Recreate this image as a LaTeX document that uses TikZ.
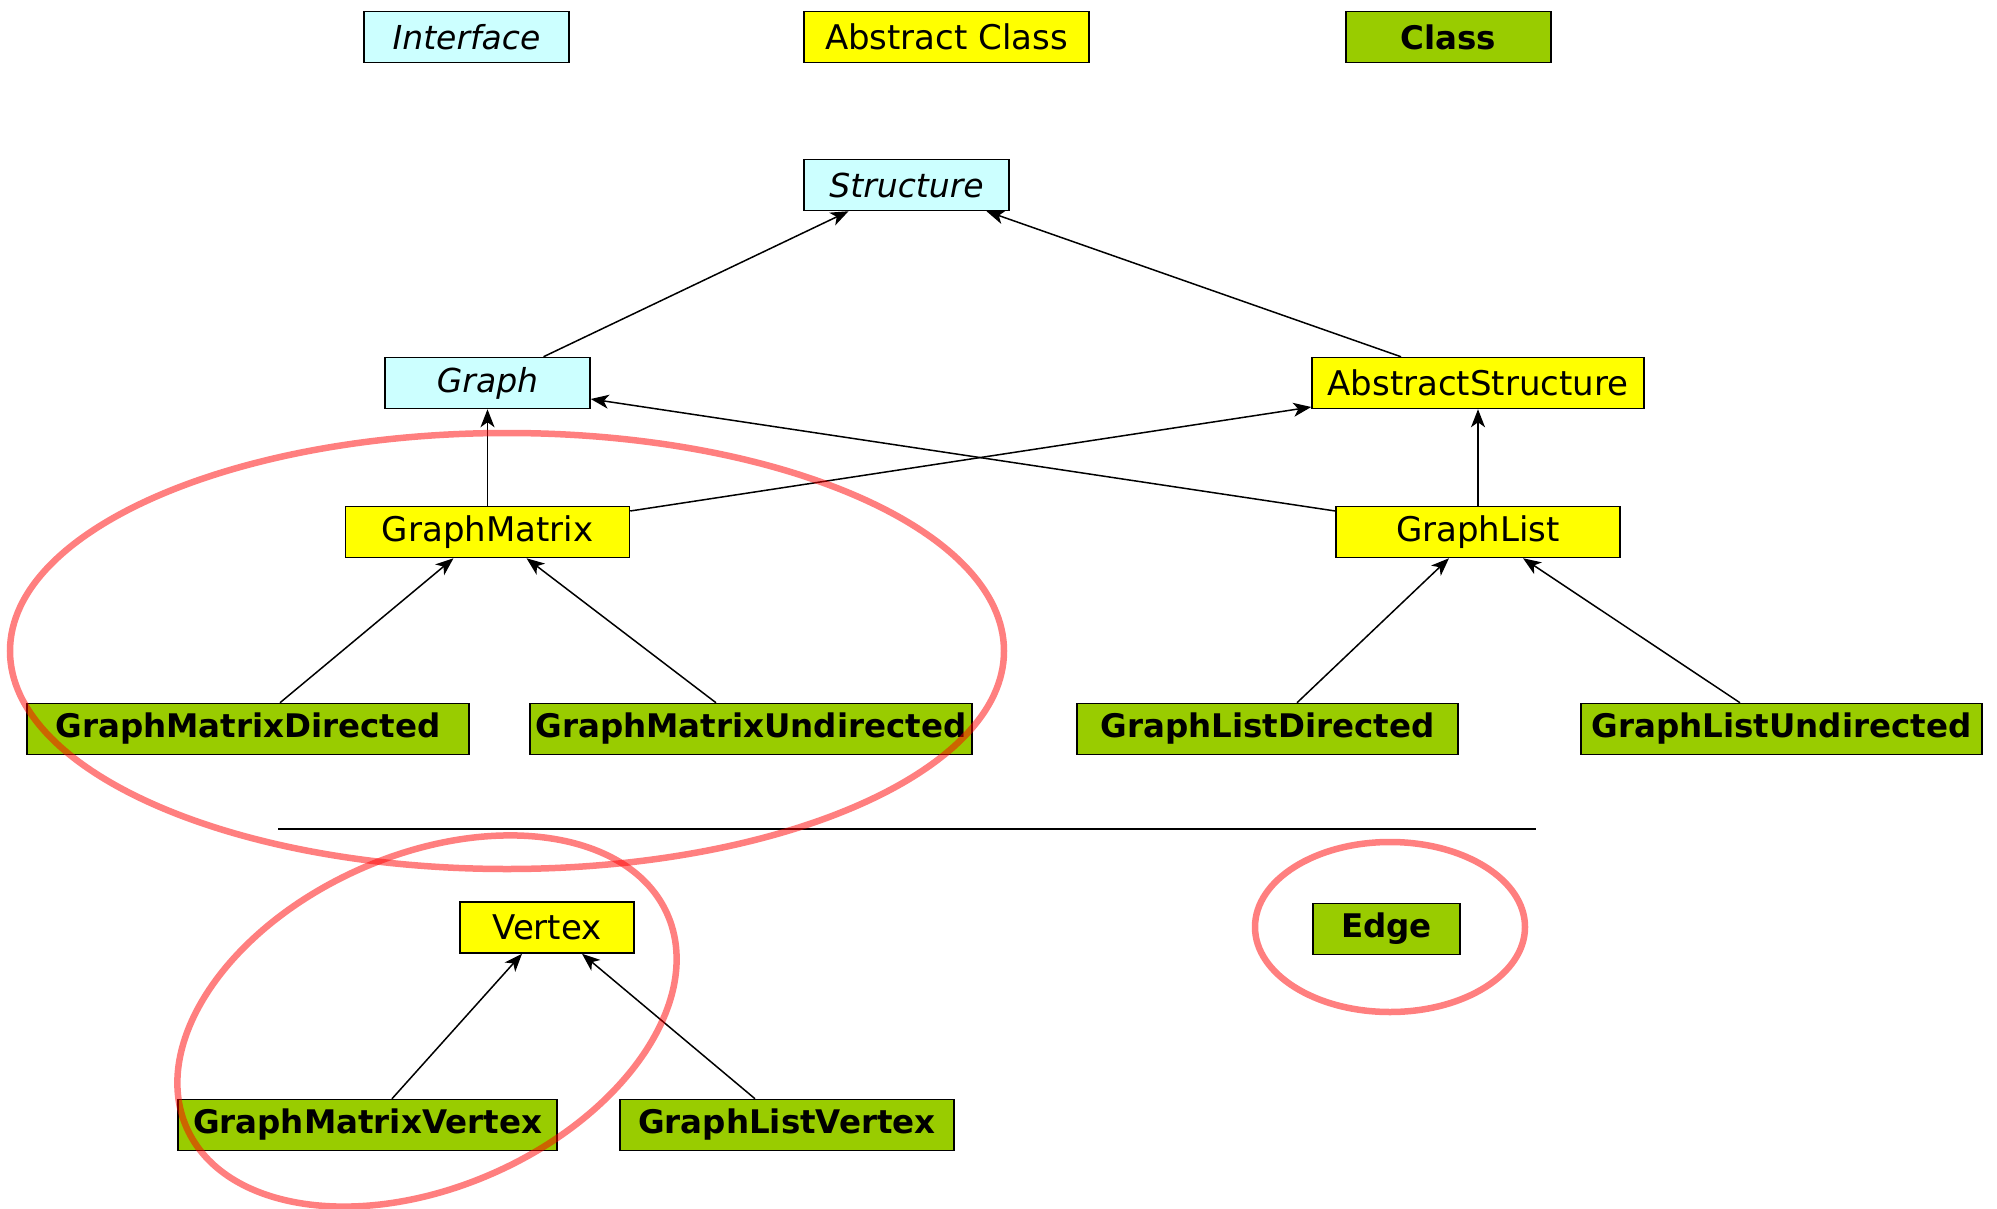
\documentclass[tikz,border=0pt]{standalone}
\usepackage{fontspec}
\setmainfont{DejaVu Sans}
\usetikzlibrary{arrows.meta}
\definecolor{ifc}{RGB}{204,255,255}
\definecolor{abc}{RGB}{255,255,0}
\definecolor{clc}{RGB}{153,204,0}
\tikzset{
  box/.style={draw=black,line width=1.5pt,inner sep=0pt,minimum height=51pt,font=\fontsize{34}{40}\selectfont},
  ifbox/.style={box,fill=ifc,font=\fontsize{33}{40}\selectfont\itshape},
  abbox/.style={box,fill=abc},
  clbox/.style={box,fill=clc,font=\fontsize{32.5}{40}\selectfont\bfseries},
  arr/.style={line width=1.5pt,-{Stealth[length=18pt,width=14pt,inset=5pt]}},
  ring/.style={draw=red,draw opacity=0.5,line width=6.5pt}
}
\begin{document}
\begin{tikzpicture}[x=1pt,y=-1pt]
\useasboundingbox (0,0) rectangle (1997,1209);
% legend
\node[ifbox,minimum width=205pt] (lif) at (466.5,37) {Interface};
\node[abbox,minimum width=285pt] (lab) at (946.5,37) {Abstract Class};
\node[clbox,minimum width=205pt] (lcl) at (1448.5,37) {Class};
% hierarchy
\node[ifbox,minimum width=205pt] (structure) at (906.5,185) {Structure};
\node[ifbox,minimum width=205pt] (graph) at (487.5,383) {Graph};
\node[abbox,minimum width=332pt] (abstr) at (1478,383) {AbstractStructure};
\node[abbox,minimum width=284pt] (gm) at (487.5,532) {GraphMatrix};
\node[abbox,minimum width=284pt] (gl) at (1478,532) {GraphList};
\node[clbox,minimum width=442pt] (gmd) at (248,729) {GraphMatrixDirected};
\node[clbox,minimum width=442pt] (gmu) at (751,729) {GraphMatrixUndirected};
\node[clbox,minimum width=381pt] (gld) at (1267.5,729) {GraphListDirected};
\node[clbox,minimum width=401pt] (glu) at (1781.5,729) {GraphListUndirected};
\node[abbox,minimum width=174pt] (vertex) at (547,927.5) {Vertex};
\node[clbox,minimum width=147pt] (edge) at (1386.5,929) {Edge};
\node[clbox,minimum width=379pt] (gmv) at (367.5,1125) {GraphMatrixVertex};
\node[clbox,minimum width=334pt] (glv) at (787,1125) {GraphListVertex};
% separator
\coordinate (sepa) at (278,829);
\coordinate (sepb) at (1536,829);
\draw[line width=1.5pt] (sepa) -- (sepb);
% connectors
\draw[arr] ([xshift=56pt]graph.north) -- ([xshift=-58pt]structure.south);
\draw[arr] ([xshift=-77pt]abstr.north) -- ([xshift=80pt]structure.south);
\draw[arr] (gm.north) -- (graph.south);
\draw[arr] (gl.north) -- (abstr.south);
\draw[arr] ([yshift=21pt]gm.east) -- ([yshift=-24pt]abstr.west);
\draw[arr] ([yshift=21pt]gl.west) -- ([yshift=-16pt]graph.east);
\draw[arr] ([xshift=32pt]gmd.north) -- ([xshift=-34pt]gm.south);
\draw[arr] ([xshift=-35pt]gmu.north) -- ([xshift=39pt]gm.south);
\draw[arr] ([xshift=29.5pt]gld.north) -- ([xshift=-29pt]gl.south);
\draw[arr] ([xshift=-41.5pt]glu.north) -- ([xshift=45pt]gl.south);
\draw[arr] ([xshift=24.5pt]gmv.north) -- ([xshift=-25pt]vertex.south);
\draw[arr] ([xshift=-32pt]glv.north) -- ([xshift=35pt]vertex.south);
% highlight rings
\draw[ring] (507,651) ellipse [x radius=497pt, y radius=218pt];
\draw[ring,rotate around={24:(427,1021)}] (427,1021) ellipse [x radius=263pt, y radius=166pt];
\draw[ring] (1390,927) ellipse [x radius=135pt, y radius=85pt];
\end{tikzpicture}
\end{document}
